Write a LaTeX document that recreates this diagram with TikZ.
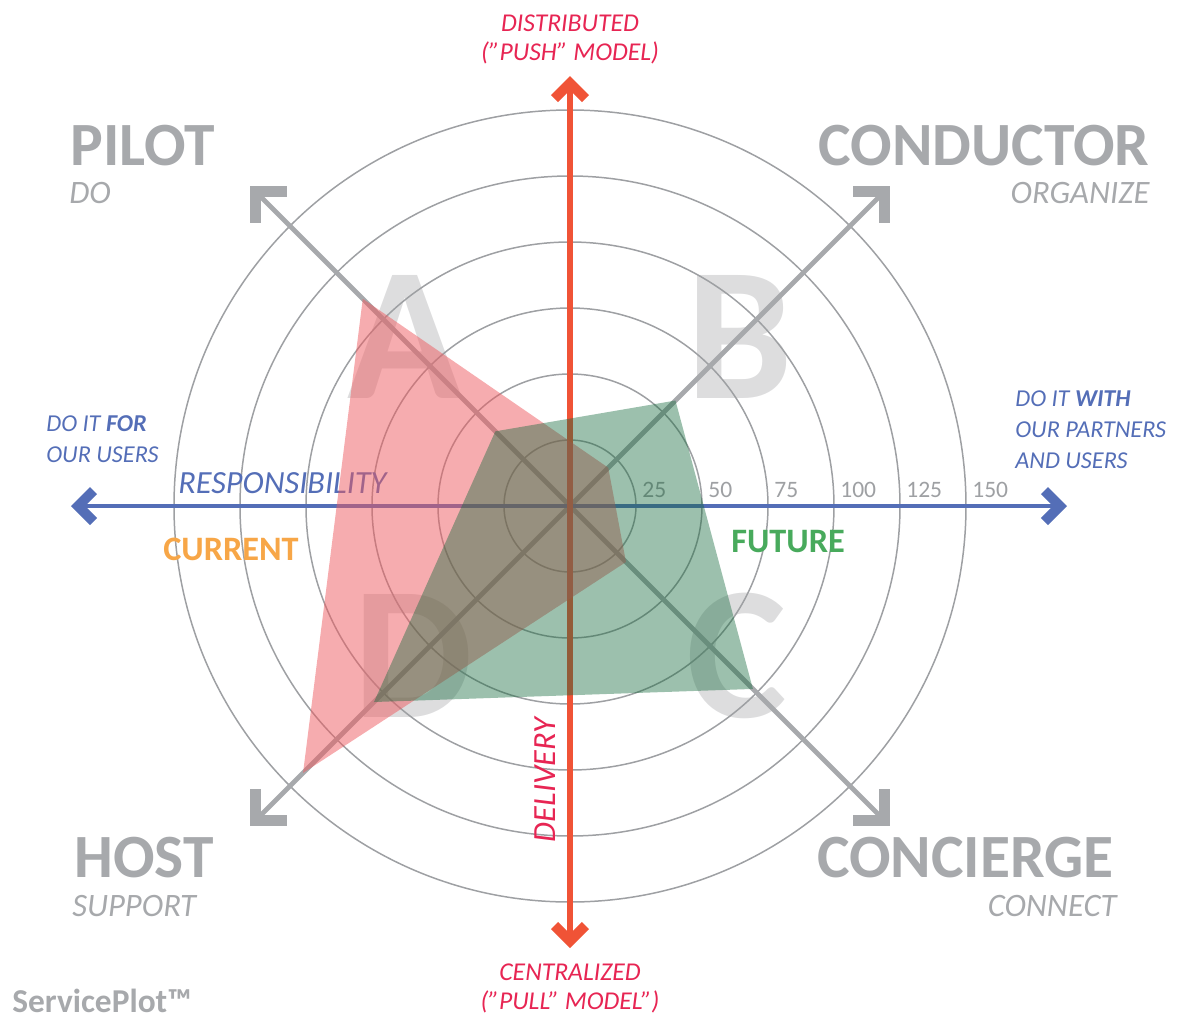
\documentclass[tikz,border=0pt]{standalone}
\usepackage{fontspec}
\setmainfont{Carlito}
\usetikzlibrary{arrows.meta}
\definecolor{rolegray}{RGB}{167,169,172}
\definecolor{ringgray}{RGB}{158,160,163}
\definecolor{lettergray}{RGB}{221,221,222}
\definecolor{pushred}{RGB}{240,83,54}
\definecolor{pushtext}{RGB}{231,37,83}
\definecolor{respblue}{RGB}{84,110,183}
\definecolor{curorange}{RGB}{247,166,71}
\definecolor{futgreen}{RGB}{72,170,92}
\definecolor{curfill}{RGB}{238,90,95}
\definecolor{futfill}{RGB}{20,105,60}
\begin{document}
\begin{tikzpicture}[x=0.02cm,y=0.02cm,line join=miter,
		axisTip/.tip={Straight Barb[length=8.8pt,width=17.6pt,line width=5.7pt]},
		roleTip/.tip={Straight Barb[length=12.5pt,width=25pt,line width=6.2pt]},
		ring/.style={ringgray,line width=0.85pt},
		role/.style={rolegray,font=\fontsize{35}{40}\selectfont\bfseries,inner sep=0pt},
		verb/.style={rolegray,font=\fontsize{18.6}{22}\selectfont\itshape,inner sep=0pt},
		note/.style={respblue,font=\fontsize{13.8}{17.4}\selectfont\itshape,inner sep=0pt,align=left,anchor=base west},
		flow/.style={pushtext,font=\fontsize{14.6}{16.5}\selectfont\itshape,inner sep=0pt,align=center,anchor=base},
		axislabel/.style={font=\fontsize{18.4}{22}\selectfont\itshape,inner sep=0pt},
		tick/.style={ringgray,font=\fontsize{13.4}{16}\selectfont,inner sep=0pt,anchor=base west},
		quadrant/.style={lettergray,font=\fontsize{108}{110}\selectfont\bfseries,inner sep=0pt},
		series/.style={font=\fontsize{19.5}{22}\selectfont\bfseries,inner sep=0pt,anchor=base west}]
	\useasboundingbox (-570,-513) rectangle (607,506);
	\coordinate (O) at (0,0);
	\node[quadrant] (qA) at (-165,169) {A};
	\node[quadrant] (qB) at (170,169) {B};
	\node[quadrant] (qC) at (167,-150) {C};
	\node[quadrant] (qD) at (-157,-150) {D};
	\foreach \r in {1,...,6}{
		\draw[ring] (O) circle (66*\r);
		\pgfmathtruncatemacro{\v}{25*\r}
		\node[tick] (tick\v) at (66*\r+6,9) {\v};
	}
	\node[axislabel,respblue,anchor=base west] (resp) at (-392,13) {RESPONSIBILITY};
	\node[axislabel,pushtext,rotate=90] (deliv) at (-25,-274) {DELIVERY};
	\coordinate (pilotTip) at (135:452);
	\coordinate (conductorTip) at (45:452);
	\coordinate (conciergeTip) at (-45:452);
	\coordinate (hostTip) at (-135:452);
	\coordinate (forTip) at (-499,0);
	\coordinate (withTip) at (497,0);
	\coordinate (pushTip) at (0,430);
	\coordinate (pullTip) at (0,-442);
	\draw[rolegray,line width=2.8pt,roleTip-roleTip] (hostTip) -- (conductorTip);
	\draw[rolegray,line width=2.8pt,roleTip-roleTip] (conciergeTip) -- (pilotTip);
	\draw[respblue,line width=2.8pt,axisTip-axisTip] (forTip) -- (withTip);
	\draw[pushred,line width=3.4pt,axisTip-axisTip] (pullTip) -- (pushTip);
	\begin{scope}[scale=2.64]
		\fill[curfill,fill opacity=0.5] (135:111) -- (45:20.5) -- (-45:30) -- (-135:143) -- cycle;
		\fill[futfill,fill opacity=0.42] (135:40) -- (45:56.5) -- (-45:98) -- (-135:105) -- cycle;
	\end{scope}
	\node[flow] (push) at (0,446) {DISTRIBUTED\\(”PUSH” MODEL)};
	\node[flow] (pull) at (0,-503) {CENTRALIZED\\(”PULL” MODEL”)};
	\node[role,anchor=base west] (pilot) at (-500,341) {PILOT};
	\node[verb,anchor=base west] (pilotVerb) at (-501,303) {DO};
	\node[role,anchor=base east] (conductor) at (580,341) {CONDUCTOR};
	\node[verb,anchor=base east] (conductorVerb) at (580,303) {ORGANIZE};
	\node[role,anchor=base west] (host) at (-496,-371) {HOST};
	\node[verb,anchor=base west] (hostVerb) at (-498,-410) {SUPPORT};
	\node[role,anchor=base east] (concierge) at (544,-371) {CONCIERGE};
	\node[verb,anchor=base east] (conciergeVerb) at (547,-410) {CONNECT};
	\node[note] (forNote) at (-524,44) {DO IT \textbf{FOR}\\OUR USERS};
	\node[note] (withNote) at (445,38) {DO IT \textbf{WITH}\\OUR PARTNERS\\AND USERS};
	\node[series,curorange] (current) at (-407,-54) {CURRENT};
	\node[series,futgreen] (future) at (161,-46) {FUTURE};
	\node[rolegray,font=\fontsize{19}{22}\selectfont\bfseries,inner sep=0pt,anchor=base west] (brand) at (-558,-506) {ServicePlot™};
\end{tikzpicture}
\end{document}
